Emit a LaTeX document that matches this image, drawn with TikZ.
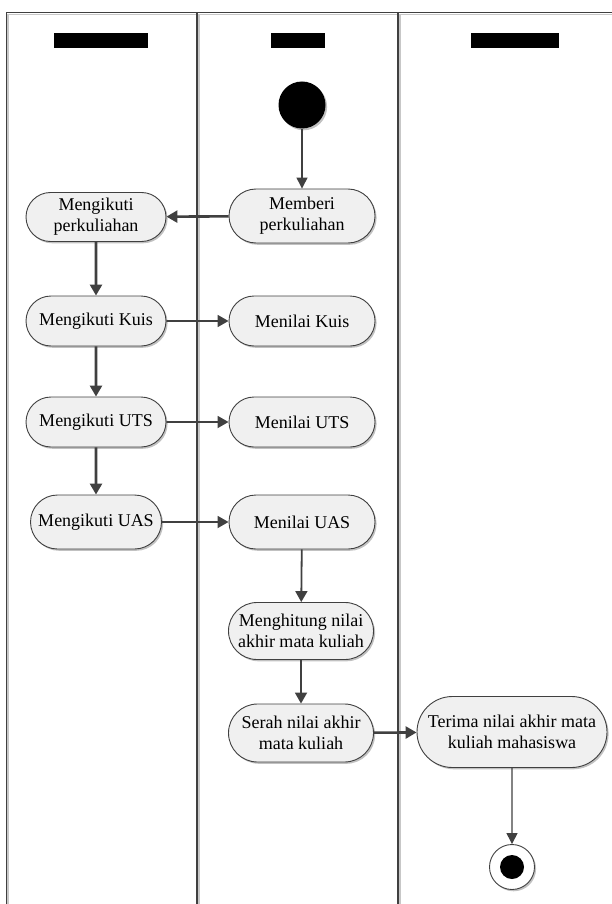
\documentclass[tikz,border=0pt]{standalone}
\usepackage{fontspec}
\setmainfont{Liberation Serif}
\usetikzlibrary{shapes.misc,shadows,arrows.meta}

\definecolor{edge}{HTML}{404040}
\definecolor{actfill}{HTML}{F0F0F0}

\begin{document}
\begin{tikzpicture}[x=1pt,y=-1pt,
  lane/.style={draw=edge,line width=1.1pt},
  laneshade/.style={draw=black!22,line width=1.6pt},
  hdr/.style={fill=black,draw=none,inner sep=0pt,minimum height=15pt},
  act/.style={rounded rectangle,draw=edge,line width=0.9pt,fill=actfill,
    drop shadow={shadow xshift=1.6pt,shadow yshift=-1.8pt,fill=black!35,opacity=0.7},
    align=center,inner sep=0pt,font=\fontsize{18}{21}\selectfont,
    minimum width=146pt,minimum height=50pt},
  heavy/.style={draw=edge,line width=2.6pt,-{Triangle[length=11pt,width=12pt]}},
  light/.style={draw=edge,line width=1.8pt,-{Triangle[length=11pt,width=12pt]}},
  thin/.style={draw=edge,line width=1.3pt,-{Triangle[length=11pt,width=11pt]}}
]
\useasboundingbox (0,0) rectangle (612,904);

% swimlane frame with its light inner shading
\draw[laneshade] (8.2,910) -- (8.2,14.6) -- (620,14.6);
\draw[laneshade] (198.8,14.6) -- (198.8,910);
\draw[laneshade] (399.8,14.6) -- (399.8,910);
\draw[lane] (6.5,910) -- (6.5,12.5) -- (620,12.5);
\draw[lane] (197,12.5) -- (197,910);
\draw[lane] (398,12.5) -- (398,910);

% lane headers
\node[hdr,minimum width=94pt] (h1) at (101,41) {};
\node[hdr,minimum width=54pt] (h2) at (298,41) {};
\node[hdr,minimum width=88pt] (h3) at (515,41) {};

% start node
\node[circle,fill=black,minimum size=47pt,inner sep=0pt,
  drop shadow={shadow xshift=1.6pt,shadow yshift=-1.8pt,fill=black!35,opacity=0.7}] (start) at (302,105) {};

% activities
\node[act,minimum width=140pt,minimum height=49pt] (perk) at (96,217) {Mengikuti\\perkuliahan};
\node[act,minimum height=54pt] (memberi) at (302,216) {Memberi\\perkuliahan};
\node[act,minimum width=140pt] (kuisL) at (96,321) {Mengikuti Kuis};
\node[act] (kuisR) at (302,321) {Menilai Kuis};
\node[act,minimum width=140pt] (utsL) at (96,422) {Mengikuti UTS};
\node[act] (utsR) at (302,422) {Menilai UTS};
\node[act,minimum width=131pt,minimum height=54pt] (uasL) at (96,522) {Mengikuti UAS};
\node[act,minimum height=54pt] (uasR) at (302,522) {Menilai UAS};
\node[act,minimum width=145pt,minimum height=57pt] (hitung) at (301,631) {Menghitung nilai\\akhir mata kuliah};
\node[act,minimum width=145pt,minimum height=58pt] (serah) at (301,733) {Serah nilai akhir\\mata kuliah};
\node[act,minimum width=190pt,minimum height=71pt] (terima) at (512,732) {Terima nilai akhir mata\\kuliah mahasiswa};

% end node
\node[circle,draw=edge,line width=0.9pt,fill=white,minimum size=45pt,inner sep=0pt,
  drop shadow={shadow xshift=1.6pt,shadow yshift=-1.8pt,fill=black!35,opacity=0.7}] (end) at (512,867) {};
\node[circle,fill=black,minimum size=24pt,inner sep=0pt] (endin) at (end.center) {};

% control flow
\draw[thin] (start) -- (memberi);
\draw[heavy] (memberi) -- (perk);
\draw[heavy] (perk) -- (kuisL);
\draw[heavy] (kuisL) -- (utsL);
\draw[heavy] (utsL) -- (uasL);
\draw[light] (kuisL) -- (kuisR);
\draw[light] (utsL) -- (utsR);
\draw[light] (uasL) -- (uasR);
\draw[light] (uasR) -- (hitung);
\draw[light] (hitung) -- (serah);
\draw[heavy] (serah) -- (terima);
\draw[thin] (terima) -- (end);
\end{tikzpicture}
\end{document}
